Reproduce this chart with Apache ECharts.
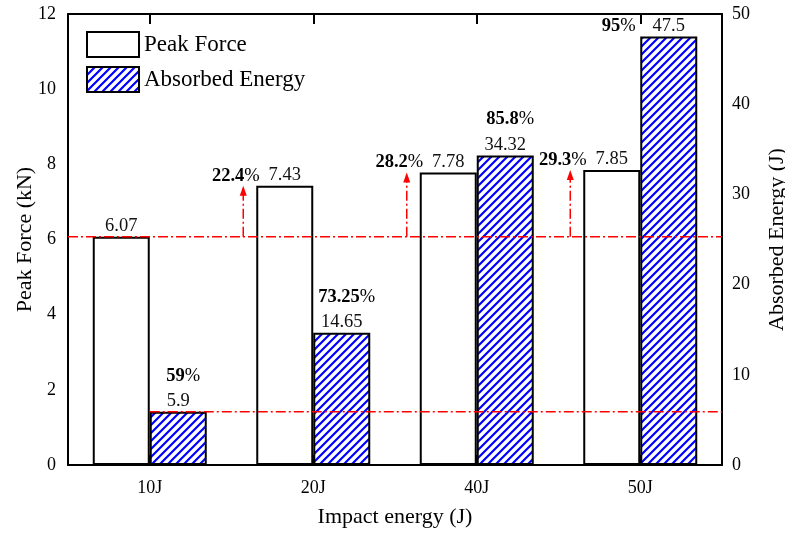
<!DOCTYPE html>
<html>
<head>
<meta charset="utf-8">
<script src="https://cdn.jsdelivr.net/npm/echarts@6/dist/echarts.min.js"></script>
<style>
  html, body { margin: 0; padding: 0; background: #fff; }
  #chart { width: 785px; height: 533px; }
</style>
</head>
<body>
<div id="chart"></div>
<script>
// Impact energy levels
var categories = ['10J', '20J', '40J', '50J'];
// Peak force per impact energy (kN)
var peakForce = [6.07, 7.43, 7.78, 7.85];
// Absorbed energy per impact energy (J)
var absorbedEnergy = [5.9, 14.65, 34.32, 47.5];
// Increase of peak force relative to the 10J case (%), none for the baseline
var forceIncrease = [null, 22.4, 28.2, 29.3];
// Share of impact energy that is absorbed (%)
var absorbedRatio = [59, 73.25, 85.8, 95];

// Left and right axis tick values
var forceTicks = [0, 2, 4, 6, 8, 10, 12];
var energyTicks = [0, 10, 20, 30, 40, 50];

var FONT = '"Liberation Serif", "Times New Roman", serif';
var BAR_W = 57;
var RED = '#ff0000';
var DASH_DOT = [10, 3, 2, 3];

// Blue diagonal hatch used for the absorbed-energy bars
function hatchPattern() {
  var c = document.createElement('canvas');
  c.width = 8; c.height = 8;
  var g = c.getContext('2d');
  g.fillStyle = '#ffffff';
  g.fillRect(0, 0, 8, 8);
  g.strokeStyle = '#0000ff';
  g.lineWidth = 2.2;
  g.beginPath();
  g.moveTo(-2, 10); g.lineTo(10, -2);
  g.moveTo(-6, 6); g.lineTo(6, -6);
  g.moveTo(2, 14); g.lineTo(14, 2);
  g.stroke();
  return c;
}

function pctRich(val, align, vAlign, x, y) {
  return {
    type: 'text',
    style: {
      x: x, y: y,
      text: '{b|' + val + '}{n|%}',
      align: align,
      verticalAlign: vAlign,
      rich: {
        b: { font: 'bold 18.5px ' + FONT, fill: '#000' },
        n: { font: '18.5px ' + FONT, fill: '#000' }
      }
    }
  };
}

// Baseline line, arrows and increase labels for the peak force
function renderForceNotes(params, api) {
  var i = params.dataIndex;
  var cs = params.coordSys;
  var base = api.coord([0, peakForce[0]]);
  var top = api.coord([i, peakForce[i]]);
  var children = [];
  if (i === 0) {
    children.push({
      type: 'line',
      shape: { x1: cs.x, y1: base[1], x2: cs.x + cs.width, y2: base[1] },
      style: { stroke: RED, lineWidth: 1.5, lineDash: DASH_DOT }
    });
  } else {
    var ax = top[0] - BAR_W - 13;
    var tipY = top[1];
    children.push({
      type: 'line',
      shape: { x1: ax, y1: base[1], x2: ax, y2: tipY + 8 },
      style: { stroke: RED, lineWidth: 1.5, lineDash: DASH_DOT }
    });
    children.push({
      type: 'polygon',
      shape: { points: [[ax - 3.5, tipY + 10], [ax + 3.5, tipY + 10], [ax, tipY]] },
      style: { fill: RED }
    });
    children.push(pctRich(forceIncrease[i], 'right', 'middle', top[0] - BAR_W / 2 - 25, top[1] - 10));
  }
  return { type: 'group', children: children };
}

// Reference line and absorption ratio labels for the absorbed energy
function renderEnergyNotes(params, api) {
  var i = params.dataIndex;
  var cs = params.coordSys;
  var top = api.coord([i, absorbedEnergy[i]]);
  var children = [];
  if (i === 0) {
    children.push({
      type: 'line',
      shape: { x1: top[0], y1: top[1], x2: cs.x + cs.width, y2: top[1] },
      style: { stroke: RED, lineWidth: 1.5, lineDash: DASH_DOT }
    });
  }
  var cx = top[0] + BAR_W / 2;
  var ly = top[1] - 36;
  if (ly < cs.y + 8) {
    children.push(pctRich(absorbedRatio[i], 'right', 'middle', cx - 33, top[1] - 10));
  } else {
    children.push(pctRich(absorbedRatio[i], 'center', 'middle', cx + 5, ly));
  }
  return { type: 'group', children: children };
}

var chart = echarts.init(document.getElementById('chart'), null, { renderer: 'canvas' });

var axisLine = { show: true, onZero: false, lineStyle: { color: '#000', width: 2 } };
var tickStyle = { inside: true, length: 10, lineStyle: { color: '#000', width: 2 } };

chart.setOption({
  animation: false,
  backgroundColor: '#fff',
  textStyle: { fontFamily: FONT },
  grid: { left: 68, right: 63, top: 14, bottom: 68, containLabel: false, outerBoundsMode: 'none' },
  legend: {
    left: 86, top: 31,
    padding: 0,
    orient: 'vertical',
    itemWidth: 52, itemHeight: 25, itemGap: 8,
    icon: 'rect',
    textStyle: { fontFamily: FONT, fontSize: 23, color: '#000' },
    data: ['Peak Force', 'Absorbed Energy']
  },
  xAxis: [{
    type: 'category',
    data: categories,
    position: 'bottom',
    name: 'Impact energy (J)',
    nameLocation: 'middle',
    nameGap: 41,
    nameMoveOverlap: false,
    nameTextStyle: { fontFamily: FONT, fontSize: 22, color: '#000' },
    axisLine: axisLine,
    axisTick: { show: true, inside: true, alignWithLabel: true, length: 10, lineStyle: { color: '#000', width: 2 } },
    axisLabel: { fontFamily: FONT, fontSize: 18, color: '#000', margin: 14 },
    splitLine: { show: false }
  }, {
    type: 'category',
    data: categories,
    position: 'top',
    axisLine: axisLine,
    axisTick: { show: true, inside: true, alignWithLabel: true, length: 10, lineStyle: { color: '#000', width: 2 } },
    axisLabel: { show: false },
    splitLine: { show: false }
  }],
  yAxis: [{
    type: 'value',
    min: forceTicks[0], max: forceTicks[forceTicks.length - 1], interval: forceTicks[1] - forceTicks[0],
    position: 'left',
    name: 'Peak Force (kN)',
    nameLocation: 'middle',
    nameGap: 32,
    nameMoveOverlap: false,
    nameTextStyle: { fontFamily: FONT, fontSize: 22, color: '#000' },
    axisLine: axisLine,
    axisTick: tickStyle,
    axisLabel: { fontFamily: FONT, fontSize: 18, color: '#000', margin: 12 },
    splitLine: { show: false }
  }, {
    type: 'value',
    min: energyTicks[0], max: energyTicks[energyTicks.length - 1], interval: energyTicks[1] - energyTicks[0],
    position: 'right',
    name: 'Absorbed Energy (J)',
    nameLocation: 'middle',
    nameGap: 44,
    nameMoveOverlap: false,
    nameTextStyle: { fontFamily: FONT, fontSize: 22, color: '#000' },
    axisLine: axisLine,
    axisTick: tickStyle,
    axisLabel: { fontFamily: FONT, fontSize: 18, color: '#000', margin: 10 },
    splitLine: { show: false }
  }],
  series: [{
    name: 'Peak Force',
    type: 'bar',
    xAxisIndex: 0,
    yAxisIndex: 0,
    data: peakForce,
    barWidth: BAR_W,
    barGap: '0%',
    itemStyle: { color: '#fff', borderColor: '#000', borderWidth: 2 },
    label: { show: true, position: 'top', distance: 1, fontFamily: FONT, fontSize: 18.5, color: '#111' },
    z: 2
  }, {
    name: 'Absorbed Energy',
    type: 'bar',
    xAxisIndex: 0,
    yAxisIndex: 1,
    data: absorbedEnergy,
    barWidth: BAR_W,
    barGap: '0%',
    itemStyle: { color: { image: hatchPattern(), repeat: 'repeat' }, borderColor: '#000', borderWidth: 2 },
    label: { show: true, position: 'top', distance: 1, fontFamily: FONT, fontSize: 18.5, color: '#111' },
    z: 2
  }, {
    name: 'forceNotes',
    type: 'custom',
    xAxisIndex: 0,
    yAxisIndex: 0,
    data: peakForce.map(function (v, i) { return [i, v]; }),
    renderItem: renderForceNotes,
    silent: true,
    z: 5
  }, {
    name: 'energyNotes',
    type: 'custom',
    xAxisIndex: 0,
    yAxisIndex: 1,
    data: absorbedEnergy.map(function (v, i) { return [i, v]; }),
    renderItem: renderEnergyNotes,
    silent: true,
    z: 5
  }]
});
</script>
</body>
</html>
